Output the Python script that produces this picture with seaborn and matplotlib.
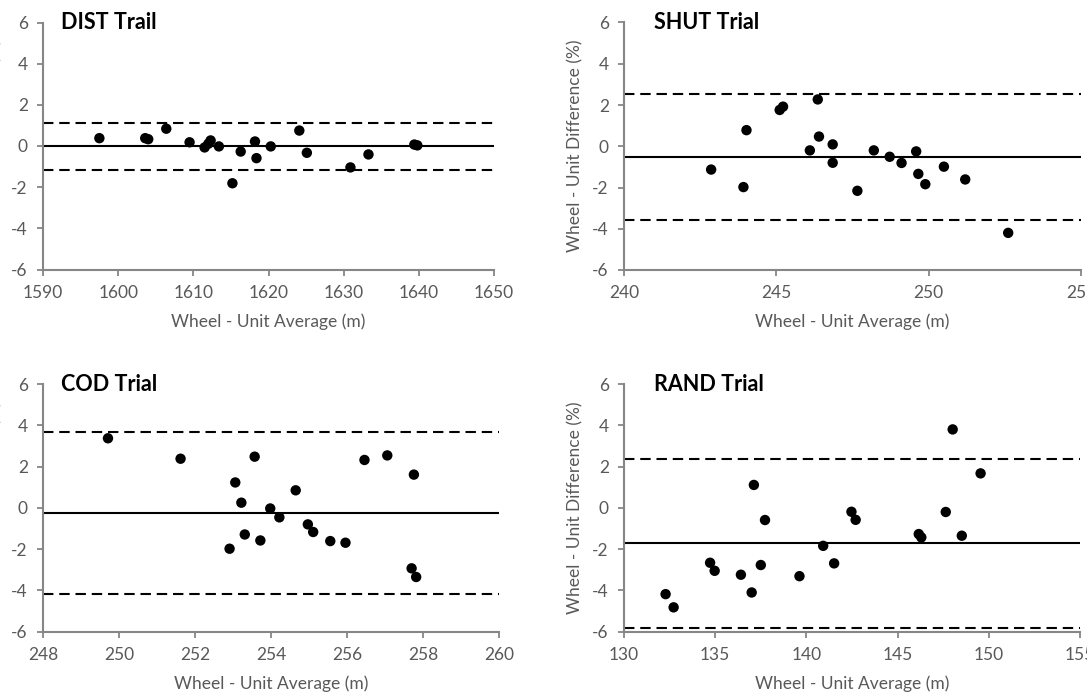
import numpy as np
import pandas as pd
import matplotlib
matplotlib.use("Agg")
import matplotlib.pyplot as plt
import seaborn as sns

# Valores (Bland-Altman: média vs diferença %)
dist_avg = [1597.5, 1603.6, 1604.0, 1606.4, 1609.5, 1611.5, 1612.0, 1612.3, 1613.4, 1615.2,
            1616.3, 1618.2, 1618.4, 1620.3, 1624.1, 1625.1, 1630.9, 1633.3, 1639.4, 1639.8]
dist_diff = [0.38, 0.38, 0.33, 0.84, 0.18, -0.07, 0.11, 0.27, -0.02, -1.81,
             -0.27, 0.22, -0.59, -0.02, 0.75, -0.33, -1.04, -0.41, 0.07, 0.03]
dist_lines = [-0.02, 1.12, -1.18]

shut_avg = [242.86, 243.92, 244.02, 245.11, 245.22, 246.36, 246.40, 246.10, 246.85, 246.85,
            247.66, 248.20, 248.72, 249.11, 249.59, 249.66, 249.89, 250.50, 251.20, 252.61]
shut_diff = [-1.13, -1.98, 0.78, 1.76, 1.92, 2.27, 0.47, -0.20, 0.09, -0.80,
             -2.16, -0.20, -0.51, -0.81, -0.25, -1.34, -1.84, -0.99, -1.61, -4.20]
shut_lines = [-0.51, 2.55, -3.57]

cod_avg = [249.71, 251.62, 252.91, 253.06, 253.22, 253.31, 253.57, 253.72, 253.98, 254.22,
           254.65, 254.97, 255.11, 255.56, 255.96, 256.46, 257.06, 257.76, 257.70, 257.82]
cod_diff = [3.37, 2.38, -1.98, 1.23, 0.25, -1.29, 2.48, -1.58, -0.03, -0.46,
            0.85, -0.80, -1.17, -1.61, -1.69, 2.32, 2.54, 1.61, -2.93, -3.35]
cod_lines = [-0.24, 3.69, -4.15]

rand_avg = [132.28, 132.72, 134.72, 134.97, 136.41, 137.00, 137.12, 137.50, 137.73, 139.62,
            140.92, 141.52, 142.47, 142.70, 146.16, 146.30, 147.64, 148.02, 148.52, 149.55]
rand_diff = [-4.18, -4.82, -2.66, -3.05, -3.24, -4.10, 1.11, -2.77, -0.59, -3.31,
             -1.84, -2.69, -0.19, -0.58, -1.27, -1.43, -0.20, 3.80, -1.35, 1.67]
rand_lines = [-1.72, 2.35, -5.81]

titles = ['DIST Trail', 'SHUT Trial', 'COD Trial', 'RAND Trial']
x_limits = [(1590, 1650), (240, 255), (248, 260), (130, 155)]
x_steps = [10, 5, 2, 5]

sns.set_style('ticks')
plt.rcParams['font.family'] = ['Lato', 'DejaVu Sans']
plt.rcParams['axes.unicode_minus'] = False

GRAY_TXT = '#595959'
GRAY_AX = '#868686'


# Função que desenha um painel de Bland-Altman
def plot_bland_altman(ax, avg, diff, lines, title, xlim, step, title_x):
    df = pd.DataFrame({'avg': avg, 'diff': diff})
    ax.axhline(lines[0], color='black', lw=1.5, zorder=1)
    ax.axhline(lines[1], color='black', lw=1.5, ls=(0, (5, 2.8)), zorder=1)
    ax.axhline(lines[2], color='black', lw=1.5, ls=(0, (5, 2.8)), zorder=1)
    sns.scatterplot(data=df, x='avg', y='diff', ax=ax, color='black', s=56,
                    edgecolor='none', zorder=3, clip_on=False)
    ax.set_xlim(*xlim)
    ax.set_ylim(-6, 6)
    ax.set_xticks(np.arange(xlim[0], xlim[1] + 0.1, step))
    ax.set_yticks(np.arange(-6, 7, 2))
    ax.set_xlabel('Wheel - Unit Average (m)', color=GRAY_TXT, fontsize=12.5, labelpad=9)
    ax.set_ylabel('Wheel - Unit Difference (%)', color=GRAY_TXT, fontsize=12.5, labelpad=6)
    ax.tick_params(axis='both', colors=GRAY_AX, labelcolor=GRAY_TXT, labelsize=12.5,
                   length=4, width=1.3, pad=7)
    sns.despine(ax=ax)
    for side in ['left', 'bottom']:
        ax.spines[side].set_color(GRAY_AX)
        ax.spines[side].set_linewidth(1.5)
    ax.text(title_x, 1.0, title, transform=ax.transAxes, fontsize=15.5,
            fontweight='bold', color='black', va='center', ha='left')


fig = plt.figure(figsize=(10.87, 6.96), dpi=100)
rects = [
    [43 / 1087, 1 - 269.5 / 696, 451 / 1087, 247 / 696],
    [624 / 1087, 1 - 270 / 696, 457 / 1087, 247.5 / 696],
    [43 / 1087, 1 - 631.7 / 696, 456 / 1087, 247.7 / 696],
    [624 / 1087, 1 - 631.7 / 696, 456 / 1087, 247.7 / 696],
]
series = [(dist_avg, dist_diff, dist_lines), (shut_avg, shut_diff, shut_lines),
          (cod_avg, cod_diff, cod_lines), (rand_avg, rand_diff, rand_lines)]
title_xs = [0.04, 0.065, 0.04, 0.065]

for i in range(4):
    ax = fig.add_axes(rects[i])
    avg, diff, lines = series[i]
    plot_bland_altman(ax, avg, diff, lines, titles[i], x_limits[i], x_steps[i], title_xs[i])

fig.savefig('out.png', dpi=100)
